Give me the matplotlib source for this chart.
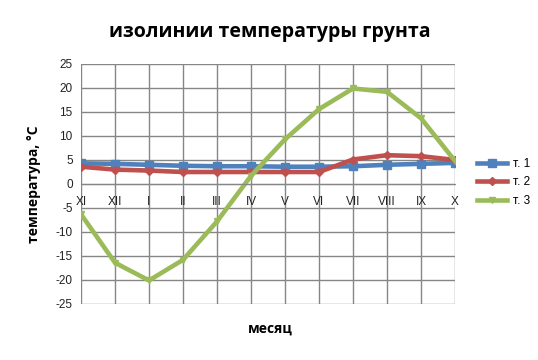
import numpy as np
import matplotlib
matplotlib.use('Agg')
import matplotlib.pyplot as plt

# DATA
months = ['XI', 'XII', 'I', 'II', 'III', 'IV', 'V', 'VI', 'VII', 'VIII', 'IX', 'X']
t1 = [4.3, 4.2, 4.0, 3.8, 3.7, 3.7, 3.6, 3.6, 3.7, 4.0, 4.2, 4.4]
t2 = [3.6, 3.0, 2.8, 2.5, 2.5, 2.5, 2.5, 2.5, 5.1, 6.0, 5.8, 5.0]
t3 = [-6.3, -16.4, -20.1, -15.8, -7.8, 1.7, 9.3, 15.6, 19.9, 19.2, 13.7, 4.8]
series_names = ['т. 1', 'т. 2', 'т. 3']
yticks = np.arange(-25, 26, 5)

plt.rcParams['font.family'] = ['Liberation Sans', 'DejaVu Sans']

fig = plt.figure(figsize=(5.38, 3.6), dpi=100)
ax = fig.add_axes([81/538, 56/360, 374/538, 240/360])

x = np.arange(len(months))
ax.plot(x, t1, color='#4F81BD', lw=3.3, marker='s', ms=6, label=series_names[0])
ax.plot(x, t2, color='#C0504D', lw=3.3, marker='D', ms=4, label=series_names[1])
ax.plot(x, t3, color='#9BBB59', lw=3.3, marker='v', ms=5, label=series_names[2])

ax.set_xlim(0, len(months) - 1)
ax.set_ylim(-25, 25)
ax.set_yticks(yticks)
ax.set_yticklabels([str(v) for v in yticks])
ax.set_xticks(x)
ax.set_xticklabels(months)
ax.grid(True, color='#868686', lw=1)
ax.set_axisbelow(True)
for s in ['top', 'right', 'left']:
    ax.spines[s].set_visible(False)
ax.spines['bottom'].set_position(('data', 0))
ax.spines['bottom'].set_color('#868686')
ax.tick_params(axis='x', length=0, pad=8.5, labelsize=8.5, colors='#222222')
ax.tick_params(axis='y', length=0, pad=6, labelsize=8.5, colors='#222222')

fig.text(270/538, 1 - 32/360, 'изолинии температуры грунта', ha='center', va='center',
         fontsize=14, fontweight='bold', family=['Open Sans', 'DejaVu Sans'])
fig.text(270/538, 1 - 329/360, 'месяц', ha='center', va='center',
         fontsize=10, fontweight='bold', family=['Open Sans', 'DejaVu Sans'])
fig.text(34/538, 1 - 184/360, 'температура, °С', ha='center', va='center', rotation=90,
         fontsize=10, fontweight='bold', family=['Open Sans', 'DejaVu Sans'])

fig.legend(loc='upper left', bbox_to_anchor=(472/538, 1 - 153/360), frameon=False,
           fontsize=8.5, handlelength=2.6, labelspacing=0.55, handletextpad=0.5,
           borderaxespad=0)

fig.savefig('out.png', dpi=100)
